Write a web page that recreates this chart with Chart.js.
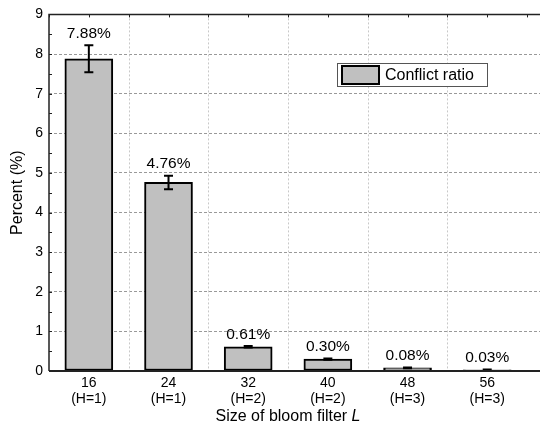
<!DOCTYPE html>
<html>
<head>
<meta charset="utf-8">
<script src="https://cdn.jsdelivr.net/npm/chart.js@4/dist/chart.umd.min.js"></script>
<style>
  html, body { margin: 0; padding: 0; background: #fff; }
  #wrap { width: 540px; height: 430px; }
</style>
</head>
<body>
<div id="wrap"><canvas id="chart"></canvas></div>
<script>
// data
let sizes = [16, 24, 32, 40, 48, 56]
let hashes = ['(H=1)', '(H=1)', '(H=2)', '(H=2)', '(H=3)', '(H=3)']
let ratio = [7.88, 4.76, 0.61, 0.30, 0.08, 0.03]
let errors = [0.34, 0.17, 0.02, 0.015, 0.01, 0.005]
let boundaries = [20, 28, 36, 44, 52]

let font = "'Liberation Sans', Arial, sans-serif"

// error bars, value labels, frame, minor ticks, legend and x title
let extras = {
    id: 'extras',
    beforeDatasetsDraw(chart) {
        let ctx = chart.ctx, x = chart.scales.x, a = chart.chartArea
        ctx.save()
        ctx.strokeStyle = '#c8c8c8'
        ctx.lineWidth = 1
        ctx.setLineDash([2, 2])
        boundaries.forEach(b => {
            let px = Math.round(x.getPixelForValue(b)) + 0.5
            ctx.beginPath()
            ctx.moveTo(px, a.top)
            ctx.lineTo(px, a.bottom)
            ctx.stroke()
        })
        ctx.restore()
    },
    afterDatasetsDraw(chart) {
        let ctx = chart.ctx, x = chart.scales.x, y = chart.scales.y, a = chart.chartArea
        ctx.save()
        ctx.strokeStyle = '#000'
        ctx.lineWidth = 2
        sizes.forEach((s, i) => {
            let px = x.getPixelForValue(s)
            let hi = y.getPixelForValue(ratio[i] + errors[i])
            let lo = y.getPixelForValue(ratio[i] - errors[i])
            ctx.beginPath()
            ctx.moveTo(px, hi); ctx.lineTo(px, lo)
            ctx.moveTo(px - 4.5, hi); ctx.lineTo(px + 4.5, hi)
            ctx.moveTo(px - 4.5, lo); ctx.lineTo(px + 4.5, lo)
            ctx.stroke()
            ctx.fillStyle = '#000'
            ctx.font = '15.5px ' + font
            ctx.textAlign = 'center'
            ctx.textBaseline = 'bottom'
            ctx.fillText(ratio[i].toFixed(2) + '%', px, hi - 4)
        })

        // frame
        ctx.strokeStyle = '#222'
        ctx.lineWidth = 1.5
        ctx.beginPath()
        ctx.moveTo(a.left, a.bottom); ctx.lineTo(a.left, a.top); ctx.lineTo(a.right, a.top)
        ctx.stroke()
        ctx.lineWidth = 2
        ctx.beginPath()
        ctx.moveTo(a.left, a.bottom); ctx.lineTo(a.right, a.bottom)
        ctx.stroke()

        // small inward ticks
        ctx.lineWidth = 1
        for (let v = 0; v <= 9; v += 0.5) {
            let py = Math.round(y.getPixelForValue(v)) + 0.5
            ctx.beginPath(); ctx.moveTo(a.left, py); ctx.lineTo(a.left + 3, py); ctx.stroke()
        }
        for (let v = 12; v <= 60; v += 4) {
            let px = Math.round(x.getPixelForValue(v)) + 0.5
            ctx.beginPath(); ctx.moveTo(px, a.top); ctx.lineTo(px, a.top + 3); ctx.stroke()
        }

        // legend box
        let lx = 337, ly = 63, lw = 150, lh = 23
        ctx.fillStyle = '#fff'
        ctx.fillRect(lx, ly, lw, lh)
        ctx.strokeStyle = '#555'
        ctx.lineWidth = 1
        ctx.strokeRect(lx + 0.5, ly + 0.5, lw, lh)
        ctx.fillStyle = '#c0c0c0'
        ctx.fillRect(lx + 5, ly + 3, 37, 18)
        ctx.strokeStyle = '#000'
        ctx.lineWidth = 2
        ctx.strokeRect(lx + 5, ly + 3, 37, 18)
        ctx.fillStyle = '#000'
        ctx.font = '16px ' + font
        ctx.textAlign = 'left'
        ctx.textBaseline = 'middle'
        ctx.fillText(chart.data.datasets[0].label, lx + 48, ly + lh / 2 + 1)

        // x axis title with italic L
        let t1 = 'Size of bloom filter ', t2 = 'L'
        ctx.font = '16px ' + font
        let w1 = ctx.measureText(t1).width
        ctx.font = 'italic 16px ' + font
        let w2 = ctx.measureText(t2).width
        let cx = x.getPixelForValue(36)
        let sx = cx - (w1 + w2) / 2
        ctx.textBaseline = 'middle'
        ctx.font = '16px ' + font
        ctx.fillText(t1, sx, 417)
        ctx.font = 'italic 16px ' + font
        ctx.fillText(t2, sx + w1, 417)
        ctx.restore()
    }
}

new Chart(document.getElementById('chart'), {
    type: 'bar',
    data: {
        datasets: [{
            label: 'Conflict ratio',
            data: sizes.map((s, i) => ({ x: s, y: ratio[i] })),
            backgroundColor: '#c0c0c0',
            borderColor: '#000',
            borderWidth: 2,
            borderSkipped: false,
            barThickness: 48
        }]
    },
    options: {
        responsive: true,
        maintainAspectRatio: false,
        animation: false,
        layout: { padding: { top: 8, right: 0, left: 0, bottom: 0 } },
        plugins: { legend: { display: false }, tooltip: { enabled: false } },
        scales: {
            x: {
                type: 'linear',
                offset: false,
                min: 12,
                max: 61.3,
                afterBuildTicks: s => { s.ticks = sizes.map(v => ({ value: v })) },
                afterFit: s => { s.height = 59 },
                grid: { display: false, offset: false },
                border: { display: false },
                ticks: {
                    autoSkip: false,
                    maxRotation: 0,
                    padding: -4,
                    color: '#000',
                    font: { family: font, size: 14, lineHeight: 1.15 },
                    callback: (v, i) => [String(sizes[i]), hashes[i]]
                }
            },
            y: {
                min: 0,
                max: 9,
                afterFit: s => { s.width = 49 },
                grid: { color: '#999', drawTicks: false },
                border: { display: false, dash: [3, 2] },
                ticks: {
                    stepSize: 1,
                    padding: 6,
                    color: '#000',
                    font: { family: font, size: 14 }
                },
                title: {
                    display: true,
                    text: 'Percent (%)',
                    color: '#000',
                    font: { family: font, size: 16 },
                    padding: { top: 8, bottom: 0 }
                }
            }
        }
    },
    plugins: [extras]
})
</script>
</body>
</html>
